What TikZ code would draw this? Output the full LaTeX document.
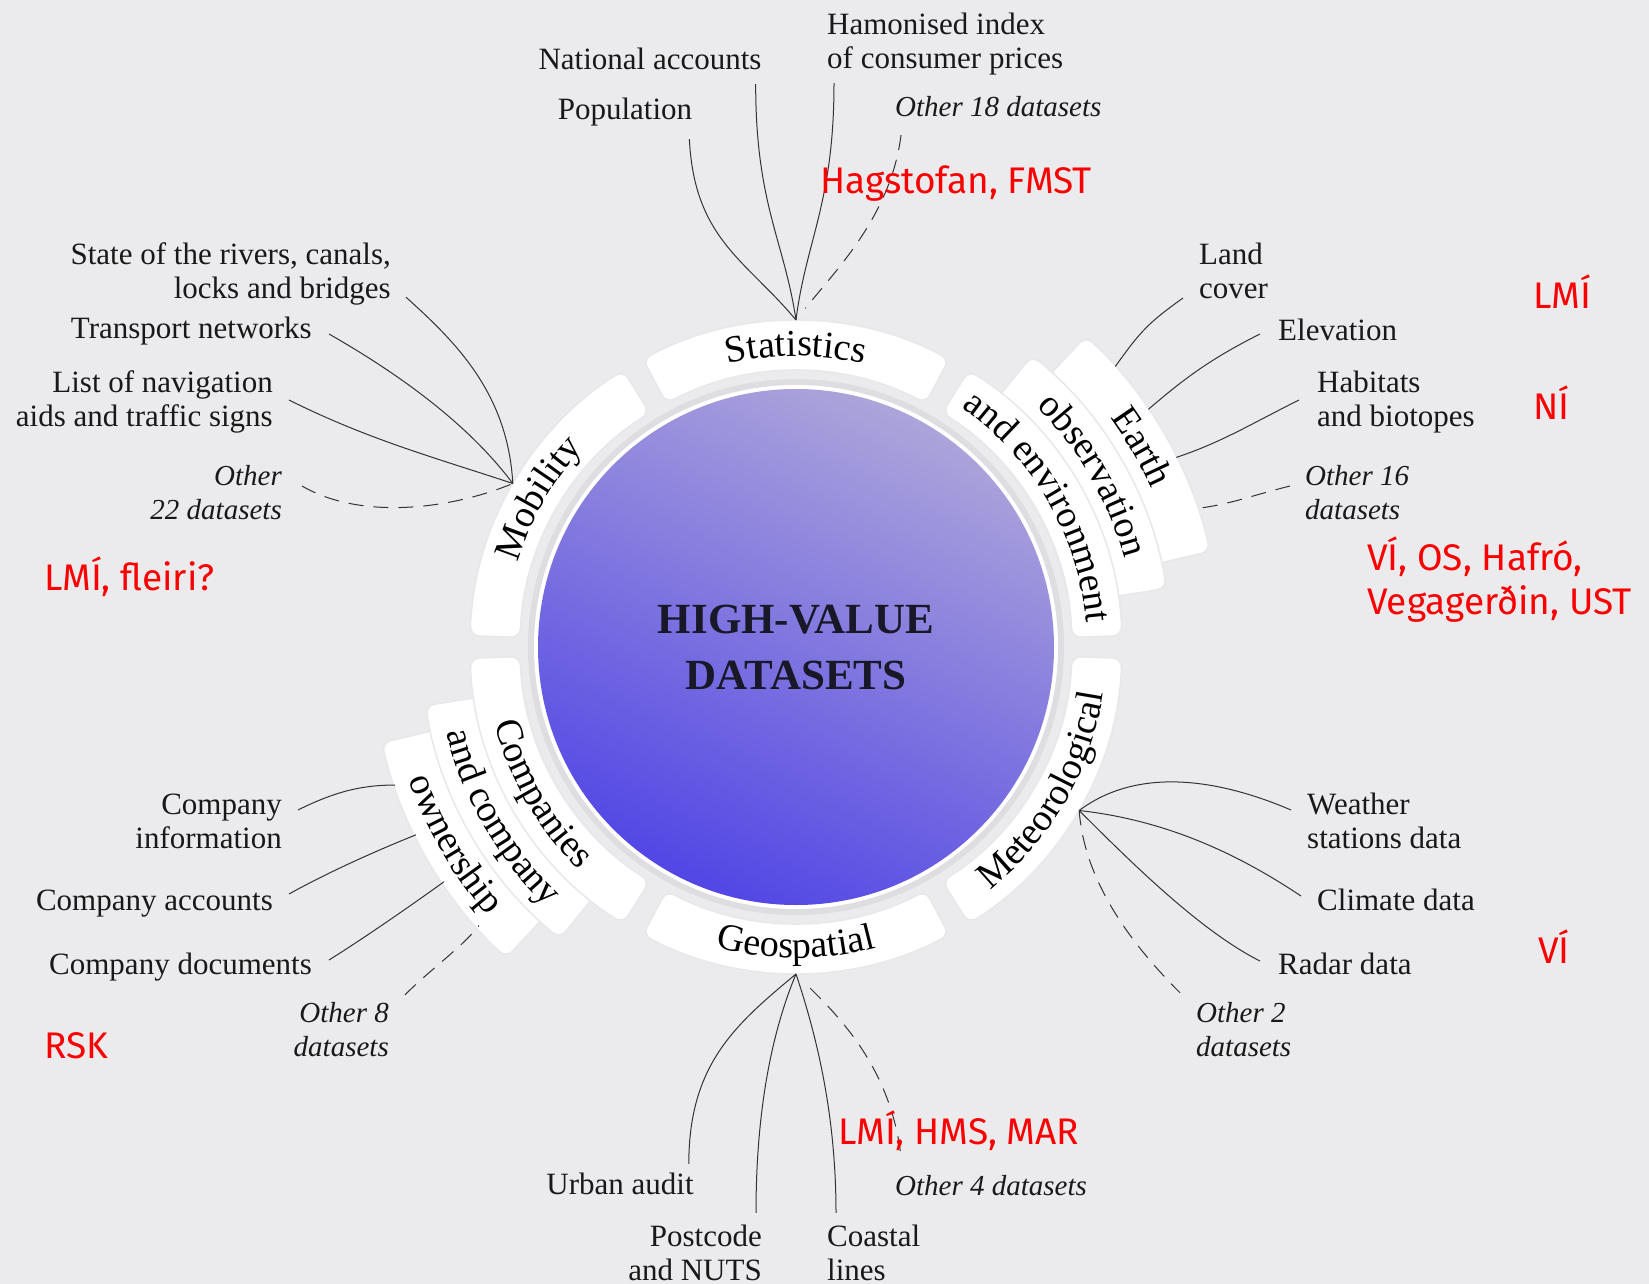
\documentclass[tikz,border=0pt]{standalone}
\usepackage{fontspec}
\usepackage{tikz}
\usetikzlibrary{decorations.text}
\setmainfont{Liberation Serif}
\newfontfamily\notefont{Fira Sans}
\definecolor{bg}{RGB}{235,235,237}
\definecolor{halo}{RGB}{222,222,226}
\definecolor{hubtop}{RGB}{172,165,218}
\definecolor{hubmid}{RGB}{140,134,224}
\definecolor{hubbot}{RGB}{82,70,229}
\definecolor{ink}{RGB}{24,24,40}
\definecolor{notered}{RGB}{250,0,0}
\tikzstyle{lbl} = [font=\fontsize{31}{34}\selectfont, inner sep=0pt, text height=21pt, text depth=7pt, text=black!90]
\tikzstyle{lbltwo} = [lbl, text height=55pt]
\tikzstyle{other} = [lbl, font=\fontsize{29}{34}\selectfont\itshape]
\tikzstyle{othertwo} = [other, text height=55pt]
\tikzstyle{note} = [font=\notefont\fontsize{37}{44}\selectfont, text=notered, inner sep=0pt, anchor=west, align=left]
\tikzstyle{link} = [line width=1pt, draw=black!80]
\tikzstyle{morelink} = [link, dash pattern=on 15pt off 10pt]
\tikzstyle{bandbox} = [fill=white, draw=black!9, line width=1.5pt, rounded corners=9pt]
\newcommand\bandfont{\fontsize{38}{44}\selectfont}
% #1 from, #2 to, #3 inner radius, #4 outer radius
\newcommand\band[4]{\path[bandbox] (#1:#4) arc[start angle=#1, end angle=#2, radius=#4] -- (#2:#3) arc[start angle=#2, end angle=#1, radius=#3] -- cycle;}
\newcommand\bandtext[4]{\path[decorate, decoration={text along path, text align=center, text={|\bandfont|#4}}] (#1:#3) arc[start angle=#1, end angle=#2, radius=#3];}

\begin{document}
\begin{tikzpicture}[x=1pt, y=-1pt]
\useasboundingbox (0,0) rectangle (1649,1284);
\fill[bg] (0,0) rectangle (1649,1284);

\coordinate (hub) at (796,647);
\fill[halo] (hub) circle[radius=268];
\fill[white] (hub) circle[radius=262];
\shade[top color=hubtop, middle color=hubmid, bottom color=hubbot, shading angle=-25] (hub) circle[radius=258];
\node[font=\fontsize{43}{56}\selectfont\bfseries, text=ink, align=center] (title) at (hub) {HIGH-VALUE\\DATASETS};

\begin{scope}[shift={(hub)}]
\band{-118}{-62}{276}{326}
\band{-178}{-122}{276}{326}
\band{-47}{-13}{276}{425}
\band{-51}{-9}{276}{375}
\band{-58}{-2}{276}{326}
\band{-302}{-358}{276}{326}
\band{-242}{-298}{276}{326}
\band{-193}{-227}{276}{425}
\band{-189}{-231}{276}{375}
\band{-182}{-238}{276}{326}
\bandtext{-118}{-62}{291}{Statistics}
\bandtext{-178}{-122}{291}{Mobility}
\bandtext{-47}{-13}{389}{Earth}
\bandtext{-51}{-9}{340}{observation}
\bandtext{-58}{-2}{291}{and environment}
\bandtext{-302}{-358}{311}{Meteorological}
\bandtext{-242}{-298}{311}{Geospatial}
\bandtext{-182}{-238}{311}{Companies}
\bandtext{-189}{-231}{360}{and company}
\bandtext{-193}{-227}{409}{ownership}
\end{scope}

\path (hub) ++(-90:327) coordinate (stat);
\path (hub) ++(-150:327) coordinate (mob);
\path (hub) ++(30:327) coordinate (met);
\path (hub) ++(90:327) coordinate (geo);
\path (hub) ++(-41.3:425) coordinate (eo1);
\path (hub) ++(-34:425) coordinate (eo2);
\path (hub) ++(-26.5:425) coordinate (eo3);
\path (hub) ++(-19:426) coordinate (eo4);
\path (hub) ++(-199:424) coordinate (co1);
\path (hub) ++(-206.3:424) coordinate (co2);
\path (hub) ++(-213.7:423) coordinate (co3);
\path (hub) ++(-221.3:422) coordinate (co4);

% statistics
\node[lbl] (nat) at (650,63) {National accounts};
\node[lbltwo, anchor=west, align=left] (ham) at (827,45) {Hamonised index\\of consumer prices};
\node[lbl] (pop) at (625,113) {Population};
\node[other, anchor=west] (o18) at (895,110) {Other 18 datasets};
\draw[link] ([shift={(-3,12)}]pop.south east) .. controls +(5,100) and +(-50,-60) .. (stat);
\draw[link] ([shift={(-6,7)}]nat.south east) .. controls +(0,120) and +(-12,-80) .. (stat);
\draw[link] ([shift={(7,7)}]ham.south west) .. controls +(0,120) and +(10,-80) .. (stat);
\draw[morelink, shorten >=15pt] ([shift={(6,11)}]o18.south west) .. controls +(-10,80) and +(40,-50) .. (stat);

% mobility
\node[lbltwo, anchor=east, align=right] (riv) at (391,274) {State of the rivers, canals,\\locks and bridges};
\node[lbl, anchor=east] (tra) at (312,331) {Transport networks};
\node[lbltwo, anchor=east, align=right] (nav) at (273,402) {List of navigation\\aids and traffic signs};
\node[othertwo, anchor=east, align=right] (o22) at (282,495) {Other\\22 datasets};
\draw[link] ([shift={(15,-8)}]riv.south east) .. controls +(50,45) and +(-5,-90) .. (mob);
\draw[link] ([shift={(17,3)}]tra.east) .. controls +(70,40) and +(-45,-60) .. (mob);
\draw[link] ([shift={(16,-2)}]nav.east) .. controls +(80,40) and +(-75,-25) .. (mob);
\draw[morelink] ([shift={(20,-9)}]o22.east) .. controls +(60,35) and +(-60,25) .. (mob);

% earth observation
\node[lbltwo, anchor=west, align=left] (land) at (1199,274) {Land\\cover};
\node[lbl, anchor=west] (elev) at (1278,333) {Elevation};
\node[lbltwo, anchor=west, align=left] (hab) at (1317,402) {Habitats\\and biotopes};
\node[othertwo, anchor=west, align=left] (o16) at (1305,495) {Other 16\\datasets};
\draw[link] ([shift={(-16,24)}]land.west) .. controls +(-35,25) and +(25,-35) .. (eo1);
\draw[link] ([shift={(-18,1)}]elev.west) .. controls +(-50,25) and +(35,-30) .. (eo2);
\draw[link] ([shift={(-18,-2)}]hab.west) .. controls +(-50,25) and +(45,-15) .. (eo3);
\draw[morelink] ([shift={(-15,-9)}]o16.west) .. controls +(-40,10) and +(35,-5) .. (eo4);

% meteorological
\node[lbltwo, anchor=west, align=left] (wea) at (1307,824) {Weather\\stations data};
\node[lbl, anchor=west] (cli) at (1317,903) {Climate data};
\node[lbl, anchor=west] (rad) at (1278,967) {Radar data};
\node[othertwo, anchor=west, align=left] (o2) at (1196,1032) {Other 2\\datasets};
\draw[link] (met) .. controls +(60,-45) and +(-70,-30) .. ([shift={(-16,-14)}]wea.west);
\draw[link] (met) .. controls +(90,10) and +(-60,-40) .. ([shift={(-16,-7)}]cli.west);
\draw[link] (met) .. controls +(50,50) and +(-60,-30) .. ([shift={(-18,-6)}]rad.west);
\draw[morelink] (met) .. controls +(5,70) and +(-50,-50) .. ([shift={(-16,-8)}]o2.north west);

% geospatial
\node[lbl] (urb) at (620,1187) {Urban audit};
\node[lbltwo, anchor=east, align=right] (pst) at (762,1256) {Postcode\\and NUTS};
\node[lbltwo, anchor=west, align=left] (cst) at (827,1256) {Coastal\\lines};
\node[other, anchor=west] (o4) at (895,1188) {Other 4 datasets};
\draw[link] (geo) .. controls +(-60,50) and +(0,-100) .. ([shift={(-5,-9)}]urb.north east);
\draw[link] (geo) .. controls +(-25,60) and +(0,-100) .. ([shift={(-6,-12)}]pst.north east);
\draw[link] (geo) .. controls +(20,60) and +(0,-100) .. ([shift={(9,-12)}]cst.north west);
\draw[morelink, shorten <=20pt] (geo) .. controls +(40,40) and +(-10,-90) .. ([shift={(6,-17)}]o4.north west);

% companies
\node[lbltwo, anchor=east, align=right] (cinf) at (282,824) {Company\\information};
\node[lbl, anchor=east] (cacc) at (273,903) {Company accounts};
\node[lbl, anchor=east] (cdoc) at (312,967) {Company documents};
\node[othertwo, anchor=east, align=right] (o8) at (389,1032) {Other 8\\datasets};
\draw[link] ([shift={(16,-14)}]cinf.east) .. controls +(40,-20) and +(-30,0) .. (co1);
\draw[link] ([shift={(16,-9)}]cacc.east) .. controls +(45,-25) and +(-30,12) .. (co2);
\draw[link] ([shift={(17,-7)}]cdoc.east) .. controls +(40,-25) and +(-25,18) .. (co3);
\draw[morelink] ([shift={(16,-6)}]o8.north east) .. controls +(25,-25) and +(-15,20) .. (co4);

% owners
\node[note] (nStat) at (820,184) {Hagstofan, FMST};
\node[note] (nLand) at (1533,292) {LMÍ};
\node[note] (nHab) at (1533,403) {NÍ};
\node[note] (nEnv) at (1367,580) {VÍ, OS, Hafró,\\Vegagerðin, UST};
\node[note] (nMob) at (44,577) {LMÍ, fleiri?};
\node[note] (nMet) at (1538,947) {VÍ};
\node[note] (nCom) at (44,1046) {RSK};
\node[note] (nGeo) at (838,1131) {LMÍ, HMS, MAR};
\end{tikzpicture}
\end{document}
